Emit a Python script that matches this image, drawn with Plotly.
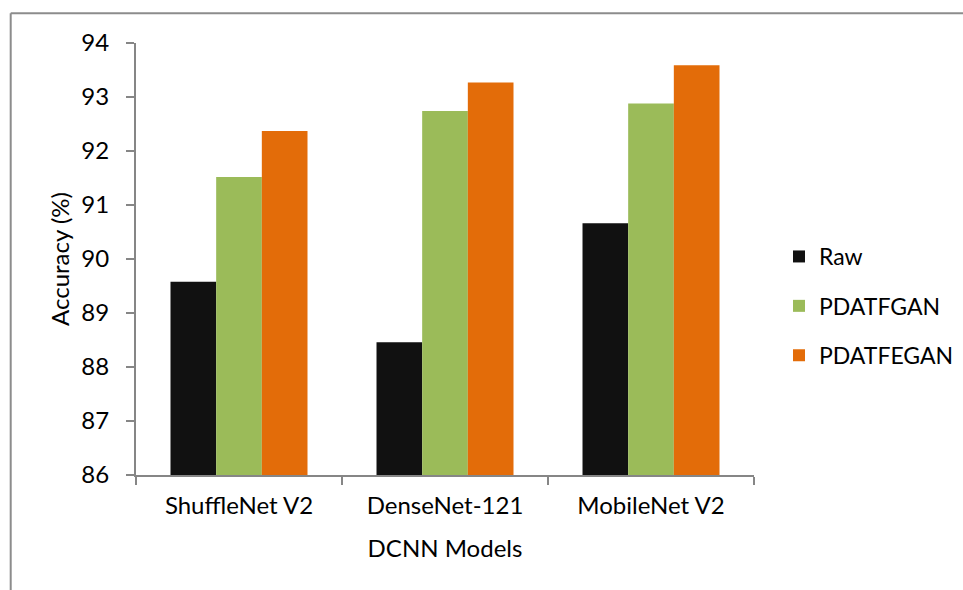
import plotly.graph_objects as go

# Accuracy (%) of each DCNN model trained on raw vs. augmented data
models = ["ShuffleNet V2", "DenseNet-121", "MobileNet V2"]
raw = [89.58, 88.46, 90.66]
pdatfgan = [91.52, 92.74, 92.88]
pdatfegan = [92.37, 93.27, 93.59]

series_names = ["Raw", "PDATFGAN", "PDATFEGAN"]
series_values = [raw, pdatfgan, pdatfegan]
series_colors = ["#111111", "#9BBB59", "#E36C09"]

Y_MIN, Y_MAX = 86, 94
FONT = "Lato"
FS = 24
AXIS_GRAY = "#868686"

fig = go.Figure()
for name, vals, color in zip(series_names, series_values, series_colors):
    # bars rise from the axis minimum
    fig.add_trace(go.Bar(
        x=models, y=[v - Y_MIN for v in vals], base=Y_MIN,
        name=name, legendgroup=name,
        marker=dict(color=color, line=dict(width=0)),
        hovertemplate="%{x}<br>" + name + ": %{customdata:.2f}%<extra></extra>",
        customdata=vals,
    ))

# plot-area geometry in pixels, used to place the outer frame and legend
L, R, T, B = 136, 209, 43, 115
PW, PH = 963 - L - R, 590 - T - B

def px_x(x):
    return (x - L) / PW

def px_y(y):
    return (590 - B - y) / PH

fig.update_layout(
    width=963, height=590,
    margin=dict(l=L, r=R, t=T, b=B, autoexpand=False),
    paper_bgcolor="white", plot_bgcolor="white",
    barmode="group", bargap=0.335, bargroupgap=0,
    font=dict(family=FONT, size=FS, color="#000000"),
    legend=dict(
        x=px_x(779), xanchor="left",
        y=px_y(306), yanchor="middle",
        font=dict(size=23, family=FONT),
        tracegroupgap=16.5, bgcolor="rgba(0,0,0,0)",
    ),
    xaxis=dict(
        type="category", showline=True, linecolor=AXIS_GRAY, linewidth=2,
        ticks="outside", tickson="boundaries", ticklen=8, tickcolor=AXIS_GRAY,
        tickwidth=2, showgrid=False, ticklabelstandoff=8,
        title=dict(text="DCNN Models", standoff=22, font=dict(size=FS)),
    ),
    yaxis=dict(
        range=[Y_MIN, Y_MAX], dtick=1, showline=True, linecolor=AXIS_GRAY,
        linewidth=2, ticks="outside", ticklen=8, tickcolor=AXIS_GRAY,
        tickwidth=2, showgrid=False, zeroline=False, ticklabelstandoff=12,
        title=dict(text="Accuracy (%)", standoff=5, font=dict(size=FS)),
    ),
    shapes=[
        # outer chart frame (top and left edges)
        dict(type="line", xref="paper", yref="paper",
             x0=px_x(10.7), x1=px_x(975), y0=px_y(13.3), y1=px_y(13.3),
             line=dict(color="#8C8C8C", width=2)),
        dict(type="line", xref="paper", yref="paper",
             x0=px_x(10.7), x1=px_x(10.7), y0=px_y(13.3), y1=px_y(600),
             line=dict(color="#8C8C8C", width=2)),
    ],
)

fig.write_html("out.html")
